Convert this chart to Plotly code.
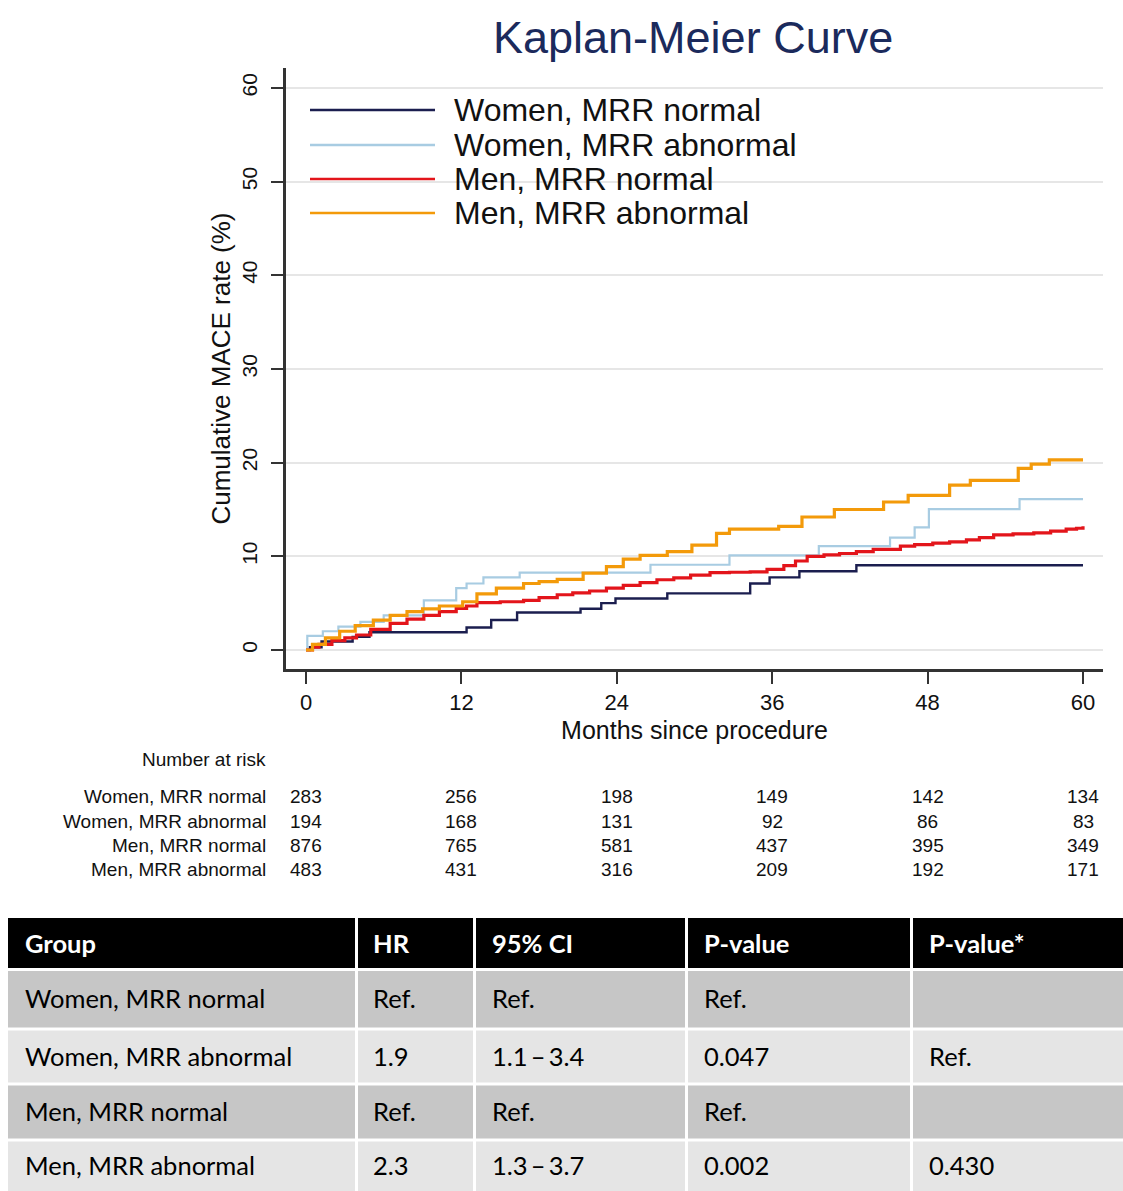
import plotly.graph_objects as go

W, H = 1123, 1191

# ---------------- data ----------------
groups = ["Women, MRR normal", "Women, MRR abnormal", "Men, MRR normal", "Men, MRR abnormal"]
colors = ["#1b1e4f", "#a8cce2", "#e3151b", "#f39a0a"]
line_widths = [2.4, 2.2, 3.2, 3.2]

wn_months = [0, 0.3, 1.2, 3.6, 4.9, 12.4, 14.3, 16.3, 21.2, 22.8, 23.9, 27.9, 34.3, 35.8, 38.1, 42.5, 60]
wn_rate = [0, 0.3, 0.9, 1.4, 1.9, 2.4, 3.2, 4.0, 4.4, 5.0, 5.5, 6.05, 7.1, 7.75, 8.4, 9.05, 9.05]

wa_months = [0, 0.1, 1.3, 2.5, 4.2, 6.0, 9.1, 11.6, 12.4, 13.7, 16.5, 26.6, 32.7, 39.6, 45.1, 47.0, 48.1, 55.1, 60]
wa_rate = [0, 1.5, 2.0, 2.5, 3.0, 3.7, 5.3, 6.6, 7.1, 7.75, 8.25, 9.1, 10.1, 11.1, 12.0, 13.1, 15.05, 16.1, 16.1]

mn_months = [0, 0.5, 1, 2, 3, 3.9, 5, 6.5, 7.8, 9.1, 10.3, 11.6, 12.4, 13.2, 15, 16.8, 18, 19.4, 20.6,
             21.9, 23.2, 24.5, 25.8, 27.1, 28.4, 29.7, 31.2, 32.7, 34.3, 35.6, 36.9, 37.8, 38.7, 40,
             41.2, 42.5, 43.8, 45.9, 47, 48.4, 49.7, 51.0, 52, 53.1, 54.6, 56.2, 57.5, 58.7, 59.5, 60]
mn_rate = [0, 0.3, 0.6, 1.0, 1.3, 1.6, 2.2, 2.85, 3.3, 3.7, 4.1, 4.45, 4.7, 5.05, 5.15, 5.3, 5.6, 5.9, 6.1,
           6.3, 6.6, 6.9, 7.2, 7.5, 7.7, 8.0, 8.25, 8.3, 8.35, 8.6, 9.0, 9.5, 10.0, 10.15,
           10.3, 10.5, 10.75, 11.1, 11.25, 11.4, 11.55, 11.75, 12.0, 12.3, 12.4, 12.5, 12.7, 12.9, 13.0, 13.2]

ma_months = [0, 0.5, 1.5, 2.6, 3.8, 5.2, 6.5, 7.8, 9, 10.3, 12.1, 13.2, 14.7, 16.8, 18, 19.4, 21.4, 23.2,
             24.5, 25.8, 27.9, 29.8, 31.7, 32.7, 36.5, 38.3, 40.8, 44.6, 46.5, 49.7, 51.3, 55.0, 56.0, 57.4, 60]
ma_rate = [0, 0.6, 1.3, 2.0, 2.6, 3.2, 3.7, 4.1, 4.4, 4.7, 5.15, 6.0, 6.6, 7.1, 7.3, 7.55, 8.2, 8.9,
           9.7, 10.1, 10.5, 11.2, 12.45, 12.9, 13.2, 14.2, 15.0, 15.8, 16.5, 17.6, 18.1, 19.4, 19.85, 20.3, 20.3]

x_ticks = [0, 12, 24, 36, 48, 60]
y_ticks = [0, 10, 20, 30, 40, 50, 60]

risk_times = [0, 12, 24, 36, 48, 60]
risk_wn = [283, 256, 198, 149, 142, 134]
risk_wa = [194, 168, 131, 92, 86, 83]
risk_mn = [876, 765, 581, 437, 395, 349]
risk_ma = [483, 431, 316, 209, 192, 171]

table_header = ["Group", "HR", "95% CI", "P-value", "P-value*"]
table_hr = ["Ref.", "1.9", "Ref.", "2.3"]
table_ci = ["Ref.", "1.1\u2009\u2013\u20093.4", "Ref.", "1.3\u2009\u2013\u20093.7"]
table_p = ["Ref.", "0.047", "Ref.", "0.002"]
table_p_star = ["", "Ref.", "", "0.430"]

# ---------------- layout helpers ----------------
def px_x(px):
    return px / W

def px_y(py):
    return (H - py) / H

FONT = "Liberation Sans, Arial, sans-serif"
TFONT = "Lato, sans-serif"

fig = go.Figure()

series = [(wn_months, wn_rate), (wa_months, wa_rate), (mn_months, mn_rate), (ma_months, ma_rate)]
for (mx, my), name, c, lw in zip(series, groups, colors, line_widths):
    fig.add_trace(go.Scatter(x=mx, y=my, mode="lines", line=dict(color=c, width=lw, shape="hv"),
                             name=name, showlegend=False, xaxis="x", yaxis="y"))

shapes = []
annotations = []

# ---------------- results table (cells as shapes, text as annotations) ----------------
col_edges = [8, 356.5, 474.5, 686.5, 911.5, 1123]
row_edges = [918, 969.5, 1029, 1084, 1140, 1191]
row_fills = ["#000000", "#c6c6c6", "#e5e5e5", "#c6c6c6", "#e5e5e5"]
table_cols = [groups, table_hr, table_ci, table_p, table_p_star]
gap = 1.5
for r in range(5):
    ytop, ybot = row_edges[r], row_edges[r + 1]
    for c in range(5):
        xl, xr = col_edges[c], col_edges[c + 1]
        shapes.append(dict(type="rect", xref="paper", yref="paper", layer="below",
                           x0=px_x(xl + (gap if c > 0 else 0)), x1=px_x(xr - (gap if c < 4 else 0)),
                           y0=px_y(ybot - (gap if r < 4 else 0)), y1=px_y(ytop + (gap if r > 0 else 0)),
                           fillcolor=row_fills[r], line=dict(width=0)))
        if r == 0:
            txt = "<b>" + table_header[c] + "</b>"
            fcol = "white"
        else:
            txt = table_cols[c][r - 1]
            fcol = "black"
        if txt:
            annotations.append(dict(xref="paper", yref="paper", x=px_x(xl + 15),
                                    y=px_y((ytop + ybot) / 2 - 1), text=txt, showarrow=False,
                                    xanchor="left", yanchor="middle",
                                    font=dict(size=25.5, family=TFONT, color=fcol)))

# legend (manual)
legend_rows_px = [110, 145, 179, 213]
for name, c, ypx in zip(groups, colors, legend_rows_px):
    shapes.append(dict(type="line", xref="paper", yref="paper", x0=px_x(310), x1=px_x(435),
                       y0=px_y(ypx), y1=px_y(ypx), line=dict(color=c, width=2.6)))
    annotations.append(dict(xref="paper", yref="paper", x=px_x(452), y=px_y(ypx), text=name,
                            showarrow=False, xanchor="left", yanchor="middle",
                            font=dict(size=32, family=FONT, color="#111111")))

# title
annotations.append(dict(xref="paper", yref="paper", x=px_x(693), y=px_y(38), text="Kaplan-Meier Curve",
                        showarrow=False, xanchor="center", yanchor="middle",
                        font=dict(size=45, family=FONT, color="#1b2a5c")))

# number at risk
RF = 19
annotations.append(dict(xref="paper", yref="paper", x=px_x(268), y=px_y(760), text="Number at risk",
                        showarrow=False, xanchor="right", yanchor="middle",
                        font=dict(size=RF, family=FONT, color="#111111")))
risk_rows_px = [797, 821, 845, 869]
for name, counts, ypx in zip(groups, [risk_wn, risk_wa, risk_mn, risk_ma], risk_rows_px):
    annotations.append(dict(xref="paper", yref="paper", x=px_x(268), y=px_y(ypx), text=name,
                            showarrow=False, xanchor="right", yanchor="middle",
                            font=dict(size=RF, family=FONT, color="#111111")))
    for t, n in zip(risk_times, counts):
        annotations.append(dict(xref="x", yref="paper", x=t, y=px_y(ypx), text=str(n),
                                showarrow=False, xanchor="center", yanchor="middle",
                                font=dict(size=RF, family=FONT, color="#111111")))

x0_px, x1_px = 286, 1103
y_top_px, y_bot_px = 68, 669
# data->pixel: month 0 at 306, month 60 at 1083 ; value 0 at 650, 60 at 88
mpp = 60 / (1083 - 306)
vpp = 60 / (650 - 88)
x_range = [(x0_px - 306) * mpp, (x1_px - 306) * mpp]
y_range = [-(y_bot_px - 650) * vpp, (650 - y_top_px) * vpp]

fig.update_layout(
    width=W, height=H,
    margin=dict(l=0, r=0, t=0, b=0),
    paper_bgcolor="white", plot_bgcolor="white",
    template="none",
    showlegend=False,
    shapes=shapes, annotations=annotations,
    xaxis=dict(domain=[px_x(x0_px), px_x(x1_px)], range=x_range, tickvals=x_ticks,
               ticks="outside", ticklen=12, tickwidth=2, tickcolor="#333333",
               showline=True, linecolor="#333333", linewidth=2.5, showgrid=False, zeroline=False,
               tickfont=dict(size=22, family=FONT, color="#111111"), ticklabelstandoff=0,
               title=dict(text="Months since procedure", standoff=8,
                          font=dict(size=25, family=FONT, color="#111111")),
               anchor="y"),
    yaxis=dict(domain=[px_y(y_bot_px), px_y(y_top_px)], range=y_range, tickvals=y_ticks,
               ticks="outside", ticklen=12, tickwidth=2, tickcolor="#333333", tickangle=-90,
               showline=True, linecolor="#333333", linewidth=2.5,
               showgrid=True, gridcolor="#e6e6e6", gridwidth=1.5, zeroline=False,
               tickfont=dict(size=21, family=FONT, color="#111111"), ticklabelstandoff=6,
               title=dict(text="Cumulative MACE rate (%)", standoff=0,
                          font=dict(size=26, family=FONT, color="#111111")),
               anchor="x"),
)

fig.write_html("out.html", config={"displayModeBar": False},
               post_script="document.body.style.margin='0';document.body.style.overflow='hidden';")
